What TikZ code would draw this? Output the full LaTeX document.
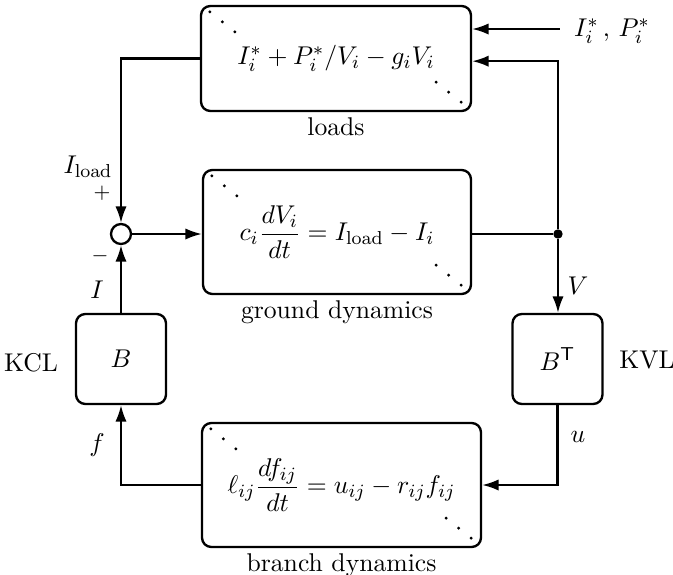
\documentclass[11pt,tikz,border=0pt]{standalone}
\usepackage{amsmath}
\usetikzlibrary{arrows.meta,positioning,calc}
\tikzset{
  >={Latex[length=7pt,width=4.8pt]},
  block/.style={draw,line width=1pt,rounded corners=4pt,align=center,inner sep=3pt},
  sumnode/.style={circle,draw,line width=1pt,minimum size=0.3cm,inner sep=0pt},
  junct/.style={circle,fill,minimum size=4pt,inner sep=0pt},
  wire/.style={line width=0.9pt},
  caption/.style={inner sep=0pt},
  sign/.style={font=\footnotesize},
}

\begin{document}
\begin{tikzpicture}[x=0.015cm,y=-0.015cm]
  \useasboundingbox (0,0) rectangle (673,575);
  % blocks
  \node[block,minimum width=4.05cm,minimum height=1.575cm] (loads) at (336,58.5)
    {$I_i^* + P_i^*/V_i - g_iV_i$};
  \node[block,minimum width=4.02cm,minimum height=1.86cm] (ground) at (337,232)
    {$c_i\dfrac{dV_i}{dt} = I_{\mathrm{load}} - I_i$};
  \node[block,minimum width=4.185cm,minimum height=1.86cm] (branch) at (341.5,485)
    {$\ell_{ij}\dfrac{df_{ij}}{dt} = u_{ij} - r_{ij}f_{ij}$};
  \node[block,minimum size=1.35cm] (B) at (121,359) {$B$};
  \node[block,minimum size=1.35cm] (BT) at (557.5,359) {$B^{\mathsf{T}}$};
  \node[sumnode] (sum) at (121,234) {};
  \node[junct] (dot) at (558,234) {};
  \coordinate (in) at (560,29);

  % diagonal dots in the block corners
  \foreach \b in {loads,ground,branch}{
    \foreach \k in {0,1,2}{
      \fill ($(\b.north west)+(10+12.5*\k,7+10*\k)$) circle (0.7pt);
      \fill ($(\b.south east)+(-11-12.5*\k,-10-10*\k)$) circle (0.7pt);
    }
  }

  % captions
  \node[caption,below=2pt of loads] (cloads) {loads};
  \node[caption,below=2pt of ground] (cground) {ground dynamics};
  \node[caption,below=2pt of branch] (cbranch) {branch dynamics};
  \node (kcl) at (31,363) {KCL};
  \node (kvl) at (647,360) {KVL};

  % connectors
  \draw[wire,->] (in) -- (in -| loads.east);
  \draw[wire,->] (loads.west) -| (sum.north);
  \draw[wire,->] (sum.east) -- (sum -| ground.west);
  \draw[wire] (ground.east |- dot) -- (dot);
  \draw[wire,->] (dot) |- ([yshift=-0.04cm]loads.east);
  \draw[wire,->] (dot) -- (dot |- BT.north);
  \draw[wire,->] (BT.south) |- (branch.east);
  \draw[wire,->] (branch.west) -| (B.south);
  \draw[wire,->] (B.north) -- (sum.south);

  % signal labels
  \node (lin) at (612,31) {$I_i^*\,,\,P_i^*$};
  \node (lload) at (88,167) {$I_{\mathrm{load}}$};
  \node[sign] (lplus) at (102,193) {$+$};
  \node[sign] (lminus) at (100,256) {$-$};
  \node (lI) at (97,290) {$I$};
  \node (lf) at (97,445) {$f$};
  \node (lV) at (578,286) {$V$};
  \node (lu) at (578,437) {$u$};
\end{tikzpicture}
\end{document}
